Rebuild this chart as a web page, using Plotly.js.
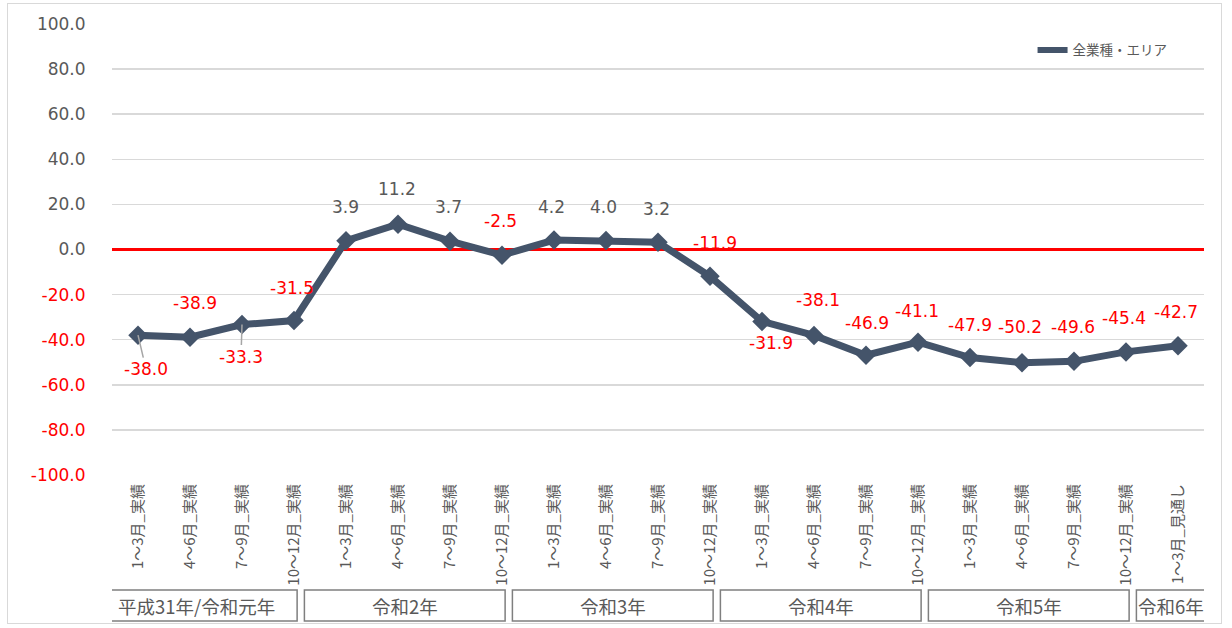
<!DOCTYPE html>
<html>
<head>
<meta charset="utf-8">
<script src="https://cdn.plot.ly/plotly-3.0.1.min.js"></script>
<style>
html,body{margin:0;padding:0;background:#fff;}
#frame{position:absolute;left:7px;top:3px;width:1215px;height:621px;border:1px solid #d9d9d9;box-sizing:border-box;pointer-events:none;}
#chart{position:absolute;left:0;top:0;width:1232px;height:628px;}
</style>
</head>
<body>
<div id="chart"></div>
<div id="frame"></div>
<script>
// ---- data ----
const categories = [
  '1～3月_実績','4～6月_実績','7～9月_実績','10～12月_実績',
  '1～3月_実績','4～6月_実績','7～9月_実績','10～12月_実績',
  '1～3月_実績','4～6月_実績','7～9月_実績','10～12月_実績',
  '1～3月_実績','4～6月_実績','7～9月_実績','10～12月_実績',
  '1～3月_実績','4～6月_実績','7～9月_実績','10～12月_実績',
  '1～3月_見通し'
];
const values = [-38.0,-38.9,-33.3,-31.5,3.9,11.2,3.7,-2.5,4.2,4.0,3.2,-11.9,-31.9,-38.1,-46.9,-41.1,-47.9,-50.2,-49.6,-45.4,-42.7];
const groups = ['平成31年/令和元年','令和2年','令和3年','令和4年','令和5年','令和6年'];
const groupSizes = [4,4,4,4,4,1];
const yTicks = [100,80,60,40,20,0,-20,-40,-60,-80,-100];
const seriesName = '全業種・エリア';

// ---- style ----
const GRAY = '#595959';
const RED = '#FF0000';
const LINE = '#44546A';
// label offsets in px [dx, dy(up positive)]
const labelShift = [
  [8,-34],[5,34],[-1,-32],[-2,33],[-1,34],[-1,35],[-2,34],[-2,34],[-3,33],[-3,33],
  [-2,33],[5,33],[9,-22],[4,35],[1,32],[-1,31],[0,33],[-2,36],[-1,34],[-2,34],[-2,34]
];
const leader = [true,false,true,false,false,false,false,false,false,false,false,false,false,false,false,false,false,false,false,false,false];

const xs = categories.map((c,i)=>i);

const trace = {
  x: xs, y: values, type: 'scatter', mode: 'lines+markers', name: seriesName,
  line: {color: LINE, width: 7},
  marker: {symbol: 'diamond', size: 15, color: LINE},
  hoverinfo: 'skip', showlegend: false
};
// legend-only entry (no points)
const legendTrace = {
  x: [null], y: [null], type: 'scatter', mode: 'lines', name: seriesName,
  line: {color: LINE, width: 6}, showlegend: true, hoverinfo: 'skip'
};

const annotations = values.map((v,i)=>{
  const a = {
    x: xs[i], y: v, xref:'x', yref:'y',
    text: v.toFixed(1),
    font: {family:'DejaVu Sans, Verdana, sans-serif', size:17, color: v < 0 ? RED : GRAY},
    showarrow: false,
    xshift: labelShift[i][0], yshift: labelShift[i][1]
  };
  if (leader[i]) {
    a.showarrow = true; a.arrowhead = 0; a.arrowwidth = 1.5; a.arrowcolor = '#a6a6a6';
    a.ax = labelShift[i][0]; a.ay = -labelShift[i][1]; a.xshift = 0; a.yshift = 0; a.standoff = 0;
  }
  return a;
});

const shapes = [];
let start = 0;
groups.forEach((g,k)=>{
  const size = groupSizes[k];
  const x0 = start - 0.8;
  const x1 = Math.min(start + 3.06, categories.length - 0.46);
  shapes.push({type:'rect', xref:'x', yref:'paper', x0:x0, x1:x1, y0:-0.255, y1:-0.324,
    line:{color:'#7f7f7f', width:1.5}, fillcolor:'rgba(0,0,0,0)'});
  annotations.push({x:(x0+x1)/2, y:-0.2895, xref:'x', yref:'paper', text:g, showarrow:false,
    font:{family:'Noto Sans CJK JP, sans-serif', size:18.5, color:GRAY}, xanchor:'center', yanchor:'middle'});
  start += size;
});

const tickText = yTicks.map(t => t < 0 ? '<span style="color:'+RED+'">'+t.toFixed(1)+'</span>' : t.toFixed(1));

const layout = {
  width: 1232, height: 628,
  margin: {l:112, r:28, t:24, b:153},
  paper_bgcolor: 'rgba(0,0,0,0)', plot_bgcolor: '#fff',
  showlegend: true,
  legend: {x:0.843, y:0.942, xanchor:'left', yanchor:'middle', bgcolor:'rgba(0,0,0,0)',
    font:{family:'Noto Sans CJK JP, sans-serif', size:13.5, color:GRAY}},
  xaxis: {
    range:[-0.5, categories.length-0.5], tickvals: xs, ticktext: categories,
    tickangle: -90, showgrid:false, zeroline:false, showline:false,
    ticks:'outside', ticklen:2, tickcolor:'rgba(0,0,0,0)',
    tickfont:{family:'Noto Sans CJK JP, sans-serif', size:15, color:GRAY}
  },
  yaxis: {
    range:[-100,100], tickvals: yTicks, ticktext: tickText,
    showgrid:true, gridcolor:'#d9d9d9', gridwidth:1.5,
    zeroline:true, zerolinecolor:RED, zerolinewidth:3,
    ticks:'outside', ticklen:22, tickcolor:'rgba(0,0,0,0)',
    tickfont:{family:'DejaVu Sans, Verdana, sans-serif', size:17, color:GRAY},
    showline:false
  },
  annotations: annotations,
  shapes: shapes
};

Plotly.newPlot('chart', [trace, legendTrace], layout, {displayModeBar:false, staticPlot:true});
</script>
</body>
</html>
